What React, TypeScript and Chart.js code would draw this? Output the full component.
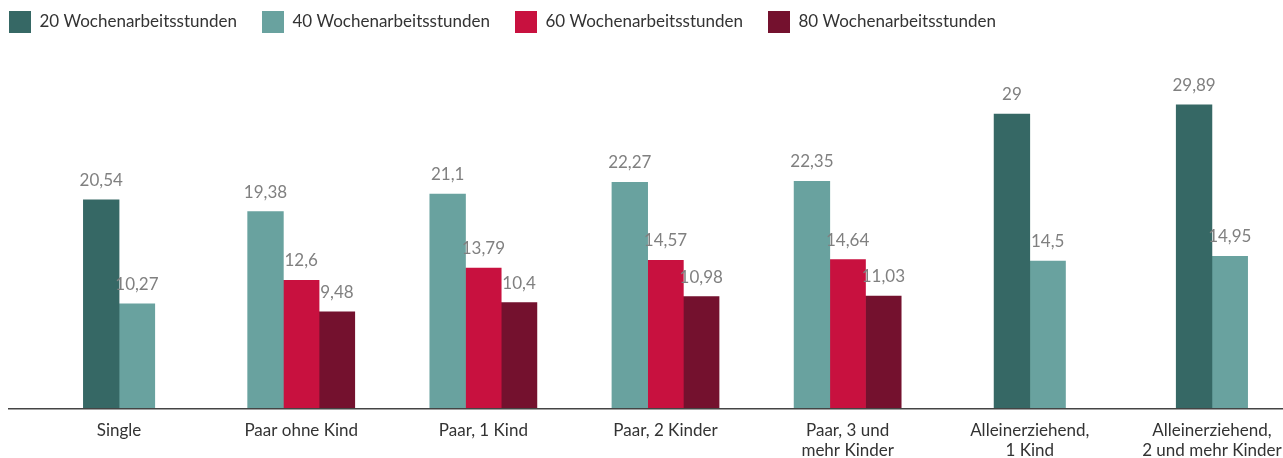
import React, { useEffect, useRef } from "react";
import { Chart, registerables } from "chart.js";

Chart.register(...registerables);

const categories: (string | string[])[] = [
  "Single",
  "Paar ohne Kind",
  "Paar, 1 Kind",
  "Paar, 2 Kinder",
  ["Paar, 3 und", "mehr Kinder"],
  ["Alleinerziehend,", "1 Kind"],
  ["Alleinerziehend,", "2 und mehr Kinder"],
];

const seriesNames = [
  "20 Wochenarbeitsstunden",
  "40 Wochenarbeitsstunden",
  "60 Wochenarbeitsstunden",
  "80 Wochenarbeitsstunden",
];

const hours20: (number | null)[] = [20.54, null, null, null, null, 29, 29.89];
const hours40: (number | null)[] = [10.27, 19.38, 21.1, 22.27, 22.35, 14.5, 14.95];
const hours60: (number | null)[] = [null, 12.6, 13.79, 14.57, 14.64, null, null];
const hours80: (number | null)[] = [null, 9.48, 10.4, 10.98, 11.03, null, null];

const colors = ["#366865", "#69a29f", "#c8113f", "#74112e"];

const FONT = "Lato, 'Noto Sans', sans-serif";

const valueLabels = {
  id: "valueLabels",
  afterDatasetsDraw(chart: any) {
    const ctx = chart.ctx;
    ctx.save();
    ctx.font = `17px ${FONT}`;
    ctx.fillStyle = "#808080";
    ctx.textAlign = "center";
    ctx.textBaseline = "alphabetic";
    chart.data.datasets.forEach((ds: any, di: number) => {
      const meta = chart.getDatasetMeta(di);
      meta.data.forEach((el: any, i: number) => {
        const v = ds.data[i];
        if (v === null || v === undefined) return;
        ctx.fillText(String(v).replace(".", ","), el.x, el.y - 14);
      });
    });
    ctx.restore();
  },
};

const axisLine = {
  id: "axisLine",
  afterDatasetsDraw(chart: any) {
    const ctx = chart.ctx;
    const y = chart.scales.y.getPixelForValue(0) + 0.75;
    ctx.save();
    ctx.strokeStyle = "#444444";
    ctx.lineWidth = 1.5;
    ctx.beginPath();
    ctx.moveTo(24, y);
    ctx.lineTo(chart.width, y);
    ctx.stroke();
    ctx.restore();
  },
};

export default function App() {
  const ref = useRef<HTMLCanvasElement | null>(null);
  useEffect(() => {
    if (!ref.current) return;
    const series = [hours20, hours40, hours60, hours80];
    const chart = new Chart(ref.current, {
      type: "bar",
      data: {
        labels: categories,
        datasets: series.map((d, i) => ({
          label: seriesNames[i],
          data: d,
          backgroundColor: colors[i],
          borderWidth: 0,
          barThickness: 35.7,
          skipNull: true,
        })),
      },
      options: {
        animation: false,
        responsive: true,
        maintainAspectRatio: false,
        layout: { padding: 0 },
        plugins: {
          legend: {
            display: true,
            position: "top",
            align: "start",
            labels: {
              boxWidth: 22,
              boxHeight: 22,
              padding: 25,
              color: "#333333",
              font: { family: FONT, size: 17 },
            },
          },
          tooltip: { enabled: false },
        },
        scales: {
          x: {
            grid: { display: false },
            border: { display: false },
            ticks: {
              color: "#333333",
              font: { family: FONT, size: 17 },
              padding: 4,
              maxRotation: 0,
              autoSkip: false,
            },
            afterFit(scale: any) {
              scale.height = 50;
            },
          },
          y: {
            min: 0,
            max: 36,
            grid: { display: false },
            border: { display: false },
            ticks: { display: false },
            afterFit(scale: any) {
              scale.width = 44;
            },
          },
        },
      },
      plugins: [valueLabels, axisLine],
    });
    return () => chart.destroy();
  }, []);

  return (
    <div
      style={{
        position: "absolute",
        left: 0,
        top: 0,
        width: 1283,
        height: 458,
        overflow: "hidden",
        background: "#ffffff",
      }}
    >
      <div
        style={{
          position: "absolute",
          left: -16,
          top: -14,
          width: 1319,
          height: 472,
        }}
      >
        <canvas ref={ref} />
      </div>
    </div>
  );
}
